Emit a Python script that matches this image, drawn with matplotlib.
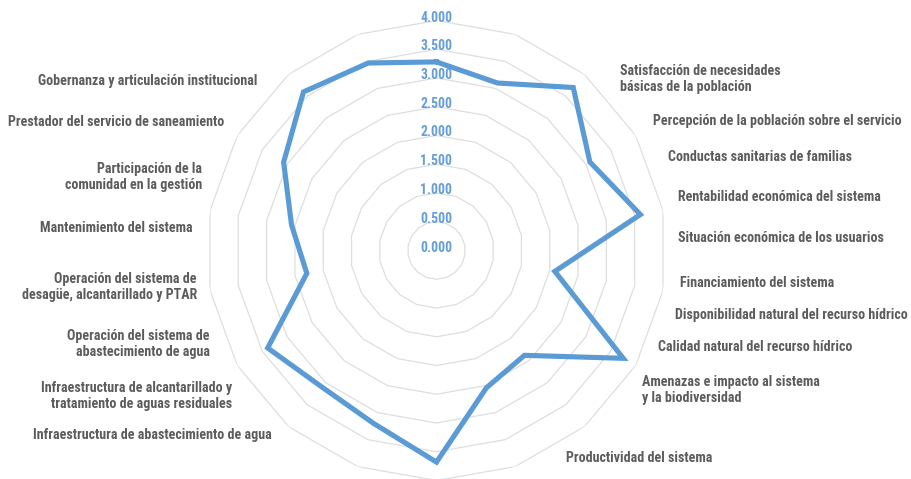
import numpy as np
import matplotlib
matplotlib.use("Agg")
import matplotlib.pyplot as plt
from matplotlib import font_manager as fm
from matplotlib.font_manager import FontProperties
import matplotlib.transforms as mtransforms

# ---------------- data ----------------
categories = [
    "Satisfacción de necesidades\nbásicas de la población",
    "Percepción de la población sobre el servicio",
    "Conductas sanitarias de familias",
    "Rentabilidad económica del sistema",
    "Situación económica de los usuarios",
    "Financiamiento del sistema",
    "Disponibilidad natural del recurso hídrico",
    "Calidad natural del recurso hídrico",
    "Amenazas e impacto al sistema\ny la biodiversidad",
    "Productividad del sistema",
    "Infraestructura de abastecimiento de agua",
    "Infraestructura de alcantarillado y\ntratamiento de aguas residuales",
    "Operación del sistema de\nabastecimiento de agua",
    "Operación del sistema de\ndesagüe, alcantarillado y PTAR",
    "Mantenimiento del sistema",
    "Participación de la\ncomunidad en la gestión",
    "Prestador del servicio de saneamiento",
    "Gobernanza y articulación institucional",
]
values = [3.28, 3.10, 3.70, 3.08, 3.60, 2.09, 3.75, 2.38, 2.54,
          3.68, 3.20, 3.10, 3.39, 2.29, 2.56, 3.07, 3.60, 3.47]
tick_values = [0.0, 0.5, 1.0, 1.5, 2.0, 2.5, 3.0, 3.5, 4.0]
tick_labels = ["0.000", "0.500", "1.000", "1.500", "2.000",
               "2.500", "3.000", "3.500", "4.000"]

# ---------------- layout (pixels, y from top) ----------------
W, H = 912, 479
label_pos = [
    (620, 79, "left"), (653, 121, "left"), (668, 157, "left"),
    (678, 197, "left"), (678, 238, "left"), (680, 283, "left"),
    (675, 315, "left"), (658, 347, "left"), (642, 390, "left"),
    (566, 458, "left"),
    (272, 435, "right"), (232, 396, "right"), (210, 344, "right"),
    (197, 287, "right"), (193, 228, "right"), (202, 177, "right"),
    (224, 122, "right"), (257, 81, "right"),
]
cx, cy, R = 436.5, 250.5, 230.0

text_color = "#5c5c5c"
blue = "#5b9bd5"
tick_blue = "#659ed8"
grid_color = "#dedede"

fig = plt.figure(figsize=(W / 100, H / 100), dpi=100)
fig.patch.set_facecolor("white")
renderer = fig.canvas.get_renderer()

def measure(p, text):
    t = fig.text(0, 0, text, fontproperties=p)
    bb = t.get_window_extent(renderer)
    t.remove()
    return bb.width

# ---------------- font choice: narrowest available bold font ----------------
candidates = [
    dict(family="Liberation Sans Narrow", weight="bold"),
    dict(family="Roboto Condensed", weight="bold"),
    dict(family="DejaVu Sans", weight="bold", stretch="condensed"),
    dict(family="Roboto", weight="bold"),
    dict(family="Liberation Sans", weight="bold"),
    dict(family="Lato", weight="bold"),
    dict(family="Noto Sans", weight="bold"),
    dict(family="Open Sans", weight="bold"),
    dict(family="DejaVu Sans", weight="bold"),
]
sample = "Percepción de la población sobre el servicio"
best, best_w = None, 1e9
for c in candidates:
    try:
        p = FontProperties(**c, size=10)
        fm.findfont(p, fallback_to_default=False)
    except Exception:
        continue
    w = measure(p, sample)
    if w < best_w:
        best, best_w = p, w
fp = best if best is not None else FontProperties(family="DejaVu Sans", weight="bold")

lab_size = 10 * 248 / measure(fp.copy(), sample)
p10 = fp.copy(); p10.set_size(10)
tick_size = 10 * 32 / measure(p10, "4.000")

ax = fig.add_axes([(cx - R) / W, (H - cy - R) / H, 2 * R / W, 2 * R / H],
                  projection="polar")
ax.set_theta_zero_location("N")
ax.set_theta_direction(-1)
ax.set_ylim(0, 4)
ax.grid(False)
ax.spines["polar"].set_visible(False)
ax.set_xticks([])
ax.set_yticks([])
ax.patch.set_alpha(0)

n = len(values)
theta = np.linspace(0, 2 * np.pi, n, endpoint=False)
theta_c = np.append(theta, theta[0])

for r in tick_values[1:]:
    ax.plot(theta_c, [r] * (n + 1), color=grid_color, lw=0.9, zorder=1)

vals_c = np.append(values, values[0])
ax.plot(theta_c, vals_c, color=blue, lw=3.7, solid_joinstyle="miter", zorder=3)

tp = fp.copy(); tp.set_size(tick_size)
off = mtransforms.offset_copy(ax.transData, fig=fig, x=0, y=3, units="dots")
for v, s in zip(tick_values, tick_labels):
    ax.text(0, v, s, transform=off, ha="center", va="center",
            fontproperties=tp, color=tick_blue, zorder=4)

lp = fp.copy(); lp.set_size(lab_size)
for name, (x, y, ha) in zip(categories, label_pos):
    fig.text(x / W, 1 - y / H, name, ha=ha, va="center", multialignment=ha,
             fontproperties=lp, color=text_color, linespacing=1.15)

fig.savefig("out.png", dpi=100, facecolor="white")
